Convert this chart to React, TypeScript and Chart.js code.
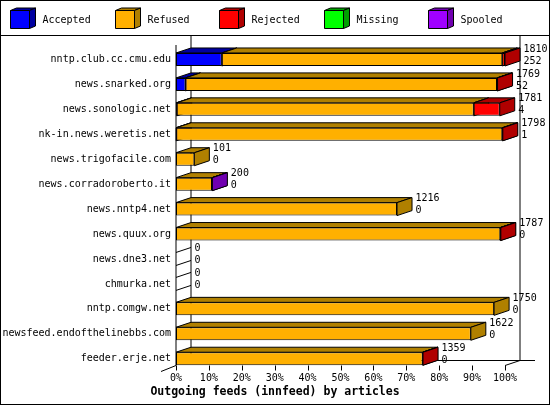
import React, { useEffect, useRef } from 'react';
import Chart from 'chart.js/auto';

// --- chart data ---
const categories = [
  'nntp.club.cc.cmu.edu',
  'news.snarked.org',
  'news.sonologic.net',
  'nk-in.news.weretis.net',
  'news.trigofacile.com',
  'news.corradoroberto.it',
  'news.nntp4.net',
  'news.quux.org',
  'news.dne3.net',
  'chmurka.net',
  'nntp.comgw.net',
  'newsfeed.endofthelinebbs.com',
  'feeder.erje.net',
];
const offered = [1810, 1769, 1781, 1798, 101, 200, 1216, 1787, 0, 0, 1750, 1622, 1359];
const accepted = [252, 52, 4, 1, 0, 0, 0, 0, 0, 0, 0, 0, 0];
const refused = [1543, 1714, 1634, 1794, 101, 198, 1216, 1784, 0, 0, 1750, 1622, 1357];
const rejected = [15, 3, 143, 3, 0, 0, 0, 3, 0, 0, 0, 0, 2];
const missing = [0, 0, 0, 0, 0, 0, 0, 0, 0, 0, 0, 0, 0];
const spooled = [0, 0, 0, 0, 0, 2, 0, 0, 0, 0, 0, 0, 0];
const tickLabels = ['0%', '10%', '20%', '30%', '40%', '50%', '60%', '70%', '80%', '90%', '100%'];

const seriesNames = ['Accepted', 'Refused', 'Rejected', 'Missing', 'Spooled'];
const seriesValues = [accepted, refused, rejected, missing, spooled];
const frontColors = ['#0000ff', '#ffb000', '#ff0000', '#00ff00', '#a000ff'];
const darkColors = ['#0000a0', '#b08000', '#b00000', '#00a000', '#7000b0'];

const FONT = 'DejaVu Sans Mono';
const DX = 15; // 3d depth
const DY = 5;
const BAR = 13;

function poly(ctx: CanvasRenderingContext2D, pts: number[][], fill?: string) {
  ctx.beginPath();
  ctx.moveTo(pts[0][0], pts[0][1]);
  for (let i = 1; i < pts.length; i++) ctx.lineTo(pts[i][0], pts[i][1]);
  ctx.closePath();
  if (fill) {
    ctx.fillStyle = fill;
    ctx.fill();
  }
  ctx.stroke();
}

function line(ctx: CanvasRenderingContext2D, x1: number, y1: number, x2: number, y2: number) {
  ctx.beginPath();
  ctx.moveTo(x1, y1);
  ctx.lineTo(x2, y2);
  ctx.stroke();
}

// frame, back wall, 3d tops and sides of the bars
const threeD = {
  id: 'threeD',
  beforeDatasetsDraw(chart: any) {
    const { ctx, chartArea, width, height } = chart;
    const xs = chart.scales.x;
    const first = chart.getDatasetMeta(0).data;
    const last = first[first.length - 1];
    const floor = Math.round(last.y + BAR / 2) + 0.5;
    const { left, right, top } = chartArea;

    ctx.save();
    ctx.strokeStyle = '#000';
    ctx.lineWidth = 1;
    ctx.strokeRect(0.5, 0.5, width - 1, height - 1);
    line(ctx, 0, 35.5, width, 35.5);
    line(ctx, left + DX, 35.5, left + DX, floor - DY);
    line(ctx, right + DX, 35.5, right + DX, floor - DY);
    line(ctx, left + DX, floor - DY, right + 2 * DX, floor - DY);
    line(ctx, left, top - 2, left, floor);
    line(ctx, left, floor, left - DX, floor + DY + 1);
    line(ctx, right, floor, right + DX, floor - DY);
    xs.ticks.forEach((t: any) => {
      const px = Math.round(xs.getPixelForValue(t.value)) + 0.5;
      line(ctx, px, floor, px, floor + 5);
    });

    categories.forEach((_, i) => {
      const el0 = first[i];
      const yt = el0.y - BAR / 2;
      const yb = el0.y + BAR / 2;
      if (offered[i] === 0) {
        line(ctx, left, yt, left + DX, yt - DY);
        line(ctx, left, yb, left + DX, yb - DY);
        return;
      }
      seriesValues.forEach((vals, d) => {
        if (!vals[i]) return;
        const el = chart.getDatasetMeta(d).data[i];
        const x0 = Math.min(el.base, el.x);
        const x1 = Math.max(el.base, el.x);
        poly(ctx, [[x0, yt], [x1, yt], [x1 + DX, yt - DY], [x0 + DX, yt - DY]], darkColors[d]);
        poly(ctx, [[x1, yt], [x1 + DX, yt - DY], [x1 + DX, yb - DY], [x1, yb]], darkColors[d]);
      });
    });
    ctx.restore();
  },
  afterDatasetsDraw(chart: any) {
    const { ctx } = chart;
    const xs = chart.scales.x;
    const first = chart.getDatasetMeta(0).data;
    ctx.save();
    ctx.fillStyle = '#000';
    ctx.font = `10px "${FONT}"`;
    ctx.textAlign = 'left';
    ctx.textBaseline = 'middle';
    categories.forEach((_, i) => {
      const tx = xs.getPixelForValue(offered[i]) + DX + 3.5;
      const cy = first[i].y;
      ctx.fillText(String(offered[i]), tx, cy - 10.5);
      ctx.fillText(String(accepted[i]), tx, cy + 1.5);
    });
    ctx.restore();
  },
  afterDraw(chart: any) {
    const { ctx } = chart;
    ctx.save();
    ctx.strokeStyle = '#000';
    ctx.lineWidth = 1;
    ctx.font = `10px "${FONT}"`;
    ctx.textBaseline = 'middle';
    ctx.textAlign = 'left';
    seriesNames.forEach((name, d) => {
      const bx = 10.5 + Math.round(104.5 * d);
      const by = 10.5;
      const w = 19;
      const h = 18;
      poly(ctx, [[bx, by], [bx + w, by], [bx + w + 6, by - 2.5], [bx + 6, by - 2.5]], darkColors[d]);
      poly(ctx, [[bx + w, by], [bx + w + 6, by - 2.5], [bx + w + 6, by + h - 2.5], [bx + w, by + h]], darkColors[d]);
      poly(ctx, [[bx, by], [bx + w, by], [bx + w, by + h], [bx, by + h]], frontColors[d]);
      ctx.fillStyle = '#000';
      ctx.fillText(name, bx + 32, 20);
    });
    ctx.restore();
  },
};

export default function App() {
  const canvasRef = useRef<HTMLCanvasElement>(null);

  useEffect(() => {
    document.body.style.margin = '0';
    if (!canvasRef.current) return;
    const maxOffered = Math.max(...offered);

    const chart = new Chart(canvasRef.current, {
      type: 'bar',
      data: {
        labels: categories,
        datasets: seriesNames.map((name, d) => ({
          label: name,
          data: seriesValues[d],
          backgroundColor: frontColors[d],
          borderColor: '#000',
          borderWidth: 1,
          borderSkipped: false,
          inflateAmount: 0,
          barThickness: BAR,
        })),
      },
      options: {
        indexAxis: 'y',
        responsive: false,
        animation: false,
        devicePixelRatio: 1,
        layout: { padding: { top: 47, right: 0, left: 0, bottom: 0 } },
        scales: {
          x: {
            stacked: true,
            min: 0,
            max: maxOffered,
            grid: { display: false, drawTicks: false },
            border: { display: false },
            ticks: {
              stepSize: maxOffered / 10,
              autoSkip: false,
              maxRotation: 0,
              padding: 1.5,
              color: '#000',
              font: { family: FONT, size: 10 },
              callback: (_v: any, idx: number) => tickLabels[idx],
            },
            afterFit: (s: any) => {
              s.height = 12;
            },
          },
          y: {
            stacked: true,
            grid: { display: false, drawTicks: false },
            border: { display: false },
            ticks: {
              autoSkip: false,
              padding: 5,
              color: '#000',
              font: { family: FONT, size: 10 },
            },
            afterFit: (s: any) => {
              s.width = 176;
            },
          },
          // empty strip on the right, room for the 3d depth and the value labels
          yRight: {
            type: 'category',
            position: 'right',
            grid: { display: false, drawTicks: false },
            border: { display: false },
            ticks: { display: false },
            afterFit: (s: any) => {
              s.width = 45;
            },
          },
        },
        plugins: {
          legend: { display: false },
          tooltip: { enabled: false },
          title: {
            display: true,
            position: 'bottom',
            text: 'Outgoing feeds (innfeed) by articles',
            color: '#000',
            font: { family: FONT, size: 11.5, weight: 'bold' },
            padding: { top: 2, bottom: 6 },
          },
        },
      },
      plugins: [threeD],
    } as any);

    return () => chart.destroy();
  }, []);

  return (
    <div style={{ width: 550, height: 405 }}>
      <canvas ref={canvasRef} width={550} height={405}></canvas>
    </div>
  );
}
